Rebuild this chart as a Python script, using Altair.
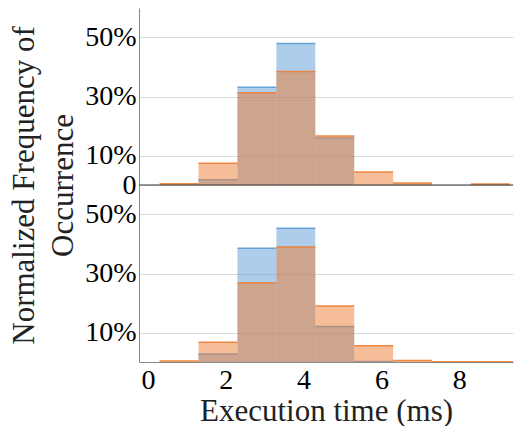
import altair as alt
import pandas as pd

bin_start = [0.3, 1.3, 2.3, 3.3, 4.3, 5.3, 6.3, 7.3, 8.3, 9.3]
bin_end = [1.3, 2.3, 3.3, 4.3, 5.3, 6.3, 7.3, 8.3, 9.3, 10.3]
top_blue = [0, 1.8, 33.1, 48.0, 15.9, 0, 0, 0, 0, 0]
top_orange = [0.4, 7.4, 31.3, 38.5, 16.6, 4.4, 0.7, 0, 0.3, 0]
bottom_blue = [0, 2.7, 38.6, 45.3, 12.0, 0.2, 0, 0, 0, 0]
bottom_orange = [0.3, 6.7, 26.9, 39.0, 19.0, 5.5, 0.5, 0.1, 0.1, 0.1]
y_title = ["Normalized Frequency of", "Occurrence"]

BLUE = "#5b9bd5"
ORANGE = "#ed7d31"
FONT = "Times New Roman, Liberation Serif, serif"
W, H = 374, 177
XDOM = [-0.23, 9.38]


def frame(vals):
    df = pd.DataFrame({"x0": bin_start, "x1": bin_end, "v": [v / 100 for v in vals]})
    return df[df["v"] > 0].reset_index(drop=True)


def panel(blue, orange, top):
    xenc = alt.X("x0:Q", scale=alt.Scale(domain=XDOM, nice=False, zero=False),
                 axis=None if top else alt.Axis(values=[0, 2, 4, 6, 8], format="d",
                                                title="Execution time (ms)", grid=False,
                                                labelPadding=4, titlePadding=2))
    if top:
        yaxis = alt.Axis(values=[0, 0.1, 0.3, 0.5], title=y_title,
                         titleX=-115, titleY=H, titleAngle=270, titleAlign="center",
                         titleBaseline="middle", titleLineHeight=39,
                         labelExpr="datum.value == 0 ? '0' : format(datum.value, '.0%')")
    else:
        yaxis = alt.Axis(values=[0.1, 0.3, 0.5], format=".0%", title=None)
    yenc = alt.Y("v:Q", scale=alt.Scale(domain=[0, 0.6], nice=False), axis=yaxis)
    layers = []
    for vals, col in ((blue, BLUE), (orange, ORANGE)):
        base = alt.Chart(frame(vals))
        layers.append(base.mark_rect(color=col, opacity=0.5, clip=True).encode(
            x=xenc, x2="x1:Q", y=yenc, y2=alt.Y2Datum(0)))
        layers.append(base.mark_rule(color=col, strokeWidth=1.5, opacity=0.9, clip=True).encode(
            x=xenc, x2="x1:Q", y=yenc))
    if top:
        layers.append(alt.Chart(pd.DataFrame({"v": [0.0]})).mark_rule(color="#333", strokeWidth=1).encode(
            y=yenc, x=alt.value(0), x2=alt.value(W)))
    return alt.layer(*layers).properties(width=W, height=H)


chart = alt.vconcat(panel(top_blue, top_orange, True),
                    panel(bottom_blue, bottom_orange, False), spacing=0, bounds="flush").properties(
    padding={"left": 0, "top": 0, "right": 0, "bottom": 0}
).configure_view(stroke=None).configure_axis(
    labelFont=FONT, labelFontSize=28, labelColor="#000", titleFont=FONT, titleFontSize=31,
    titleColor="#222", titleFontWeight="normal", domainColor="#888", ticks=False,
    gridColor="#d9d9d9", labelPadding=3
)

chart.save("out.html", embed_options={"renderer": "svg", "actions": False})
